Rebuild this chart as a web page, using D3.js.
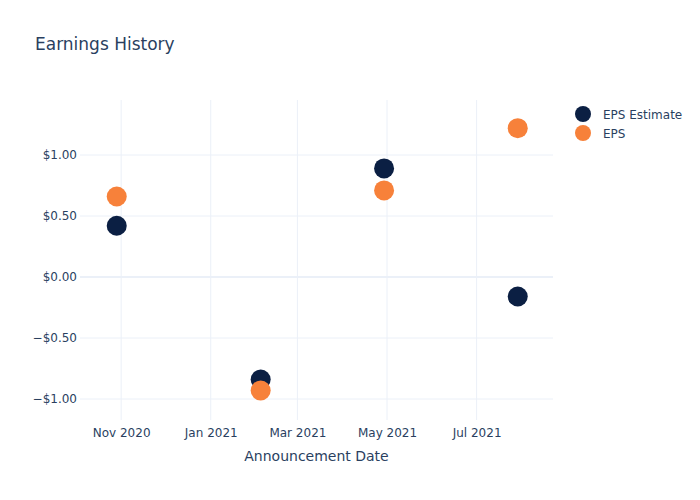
<!DOCTYPE html>
<html><head><meta charset="utf-8">
<script src="https://cdn.jsdelivr.net/npm/d3@7"></script>
<style>body{margin:0;background:#fff}svg{display:block;font-family:"DejaVu Sans",sans-serif}</style>
</head><body><svg id="c" width="700" height="500"></svg>
<script>
const dates = ["2020-10-29","2021-02-04","2021-04-29","2021-07-29"];
const epsEstimate = [0.42, -0.84, 0.89, -0.16];
const eps = [0.66, -0.93, 0.71, 1.22];
const yTicks = [-1, -0.5, 0, 0.5, 1];
const xTicks = ["2020-11-01","2021-01-01","2021-03-01","2021-05-01","2021-07-01"];
const seriesNames = ["EPS Estimate","EPS"];
const colors = ["#0b1f43","#f7813a"];

const parse = d3.utcParse("%Y-%m-%d");
const svg = d3.select("#c");
const L=80, R=553, T=100, B=420;
const x = d3.scaleUtc().domain([parse("2020-10-04"), parse("2021-08-22")]).range([L,R]);
const y = d3.scaleLinear().domain([-1.172, 1.451]).range([B,T]);
const text = "#2a3f5f", grid = "#ebf0f8";

// grid
svg.append("g").selectAll("line").data(xTicks).join("line")
  .attr("x1",d=>x(parse(d))).attr("x2",d=>x(parse(d))).attr("y1",T).attr("y2",B)
  .attr("stroke",grid).attr("stroke-width",1);
svg.append("g").selectAll("line").data(yTicks).join("line")
  .attr("x1",L).attr("x2",R).attr("y1",d=>y(d)).attr("y2",d=>y(d))
  .attr("stroke",grid).attr("stroke-width",d=>d===0?2:1);

// axes
const fmt = d => (d<0?"\u2212":"") + "$" + Math.abs(d).toFixed(2);
const ya = svg.append("g").attr("transform",`translate(${L},0)`)
  .call(d3.axisLeft(y).tickValues(yTicks).tickFormat(fmt).tickSize(0).tickPadding(3));
ya.select(".domain").remove();
ya.selectAll("text").attr("fill",text).attr("font-size",12).attr("font-family","DejaVu Sans, sans-serif");

const xfmt = d3.utcFormat("%b %Y");
const xa = svg.append("g").attr("transform",`translate(0,${B})`)
  .call(d3.axisBottom(x).tickValues(xTicks.map(parse)).tickFormat(xfmt).tickSize(0).tickPadding(8));
xa.select(".domain").remove();
xa.selectAll("text").attr("fill",text).attr("font-size",12).attr("font-family","DejaVu Sans, sans-serif");

// points
[epsEstimate, eps].forEach((vals,i)=>{
  svg.append("g").selectAll("circle").data(vals).join("circle")
    .attr("cx",(d,j)=>x(parse(dates[j]))).attr("cy",d=>y(d)).attr("r",10)
    .attr("fill",colors[i]);
});

// title
svg.append("text").attr("x",35).attr("y",50).attr("fill",text).attr("font-size",17).text("Earnings History");
svg.append("text").attr("x",(L+R)/2).attr("y",461).attr("text-anchor","middle").attr("fill",text).attr("font-size",14).text("Announcement Date");

// legend
const lg = svg.append("g");
seriesNames.forEach((n,i)=>{
  const cy = 114 + i*19;
  lg.append("circle").attr("cx",583).attr("cy",cy).attr("r",8).attr("fill",colors[i]);
  lg.append("text").attr("x",603).attr("y",cy+4.5).attr("fill",text).attr("font-size",12).text(n);
});
</script></body></html>
